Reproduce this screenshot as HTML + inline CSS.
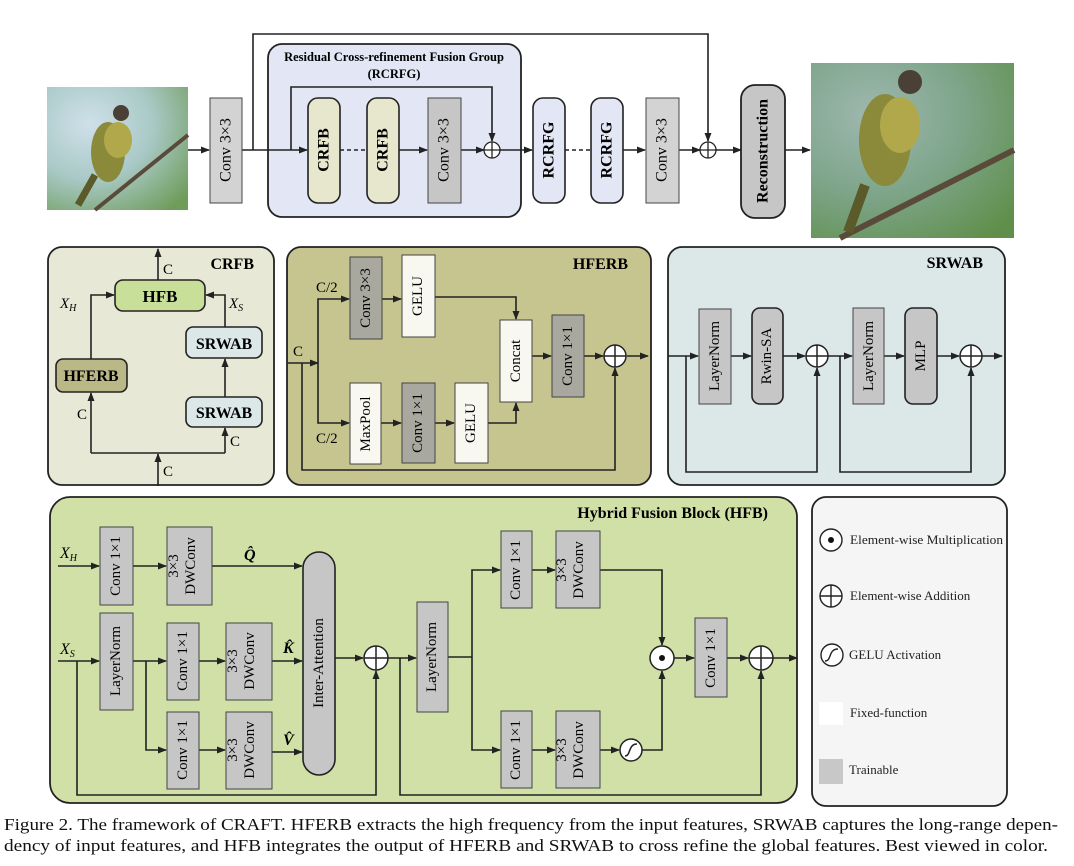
<!DOCTYPE html>
<html><head><meta charset="utf-8"><style>
html,body{margin:0;padding:0;background:#fff;}
svg{display:block;font-family:"Liberation Serif",serif;}
</style></head><body>
<svg width="1074" height="866" viewBox="0 0 1074 866" xmlns="http://www.w3.org/2000/svg">
<defs>
<marker id="a" markerWidth="9" markerHeight="8" refX="8" refY="4" orient="auto" markerUnits="userSpaceOnUse"><path d="M0,0.5 L9,4 L0,7.5 z" fill="#222"/></marker>
<radialGradient id="bg1" cx="0.3" cy="0.3" r="0.9"><stop offset="0" stop-color="#cfe0ea"/><stop offset="0.5" stop-color="#a9c9c6"/><stop offset="1" stop-color="#6f9c5a"/></radialGradient>
<radialGradient id="bg2" cx="0.3" cy="0.3" r="0.9"><stop offset="0" stop-color="#9fb8b0"/><stop offset="0.5" stop-color="#7ea58a"/><stop offset="1" stop-color="#5f8f4a"/></radialGradient>
</defs>

<!-- Birds -->
<rect x="47" y="87" width="141" height="123" fill="url(#bg1)"/>
<path d="M95,210 L188,135" stroke="#5a4a3a" stroke-width="4"/>
<ellipse cx="108" cy="152" rx="17" ry="30" fill="#8a8a3a"/>
<ellipse cx="118" cy="140" rx="14" ry="18" fill="#b0a84a"/>
<circle cx="121" cy="113" r="8" fill="#4a4035"/>
<path d="M95,175 L78,205" stroke="#5b5a2a" stroke-width="7"/>
<rect x="811" y="63" width="203" height="175" fill="url(#bg2)"/>
<path d="M840,238 L1014,150" stroke="#5a4a3a" stroke-width="6"/>
<ellipse cx="885" cy="140" rx="26" ry="46" fill="#8a8a3a"/>
<ellipse cx="900" cy="125" rx="20" ry="28" fill="#b0a84a"/>
<circle cx="910" cy="82" r="12" fill="#4a4035"/>
<path d="M865,185 L848,232" stroke="#5b5a2a" stroke-width="10"/>

<!-- Top row -->
<rect x="268" y="44" width="253" height="173" rx="14" fill="#e3e6f4" stroke="#222" stroke-width="1.8"/>
<text x="394" y="61" text-anchor="middle" font-weight="bold" font-size="12.5">Residual Cross-refinement Fusion Group</text>
<text x="394" y="78" text-anchor="middle" font-weight="bold" font-size="12.5">(RCRFG)</text>
<g stroke="#222" stroke-width="1.6" fill="none">
<line x1="188" y1="150" x2="209" y2="150" marker-end="url(#a)"/>
<line x1="242" y1="150" x2="307" y2="150" marker-end="url(#a)"/>
<polyline points="253,150 253,34 708,34 708,141" marker-end="url(#a)"/>
<polyline points="291,150 291,87 492,87 492,141" marker-end="url(#a)"/>
<line x1="340" y1="150" x2="367" y2="150" stroke-dasharray="4,3"/>
<line x1="399" y1="150" x2="427" y2="150" marker-end="url(#a)"/>
<line x1="461" y1="150" x2="484" y2="150" marker-end="url(#a)"/>
<line x1="500" y1="150" x2="532" y2="150" marker-end="url(#a)"/>
<line x1="565" y1="150" x2="591" y2="150" stroke-dasharray="4,3"/>
<line x1="623" y1="150" x2="645" y2="150" marker-end="url(#a)"/>
<line x1="679" y1="150" x2="700" y2="150" marker-end="url(#a)"/>
<line x1="716" y1="150" x2="741" y2="150" marker-end="url(#a)"/>
<line x1="785" y1="150" x2="810" y2="150" marker-end="url(#a)"/>
</g>
<rect x="210" y="98" width="32" height="105" fill="#d3d3d3" stroke="#444" stroke-width="1"/>
<text transform="translate(226,150) rotate(-90)" text-anchor="middle" dominant-baseline="central" font-size="16">Conv 3×3</text>
<rect x="308" y="98" width="32" height="105" rx="10" fill="#e6e7cc" stroke="#222" stroke-width="1.6"/>
<text transform="translate(324,150) rotate(-90)" text-anchor="middle" dominant-baseline="central" font-size="16" font-weight="bold">CRFB</text>
<rect x="367" y="98" width="32" height="105" rx="10" fill="#e6e7cc" stroke="#222" stroke-width="1.6"/>
<text transform="translate(383,150) rotate(-90)" text-anchor="middle" dominant-baseline="central" font-size="16" font-weight="bold">CRFB</text>
<rect x="428" y="98" width="33" height="105" fill="#c6c6c6" stroke="#444" stroke-width="1"/>
<text transform="translate(444,150) rotate(-90)" text-anchor="middle" dominant-baseline="central" font-size="16">Conv 3×3</text>
<rect x="533" y="98" width="32" height="105" rx="10" fill="#e3e6f4" stroke="#222" stroke-width="1.6"/>
<text transform="translate(549,150) rotate(-90)" text-anchor="middle" dominant-baseline="central" font-size="16" font-weight="bold">RCRFG</text>
<rect x="591" y="98" width="32" height="105" rx="10" fill="#e3e6f4" stroke="#222" stroke-width="1.6"/>
<text transform="translate(607,150) rotate(-90)" text-anchor="middle" dominant-baseline="central" font-size="16" font-weight="bold">RCRFG</text>
<rect x="646" y="98" width="33" height="105" fill="#d3d3d3" stroke="#444" stroke-width="1"/>
<text transform="translate(662,150) rotate(-90)" text-anchor="middle" dominant-baseline="central" font-size="16">Conv 3×3</text>
<rect x="741" y="85" width="44" height="133" rx="14" fill="#c6c6c6" stroke="#222" stroke-width="1.8"/>
<text transform="translate(763,151) rotate(-90)" text-anchor="middle" dominant-baseline="central" font-size="16" font-weight="bold">Reconstruction</text>
<g stroke="#222" stroke-width="1.3" fill="#fff">
<circle cx="492" cy="150" r="8"/><path d="M484,150h16M492,142v16"/>
<circle cx="708" cy="150" r="8"/><path d="M700,150h16M708,142v16"/>
</g>

<!-- CRFB panel -->
<rect x="48" y="247" width="226" height="238" rx="14" fill="#e8e8d6" stroke="#222" stroke-width="1.8"/>
<text x="254" y="269" text-anchor="end" font-weight="bold" font-size="16">CRFB</text>
<g stroke="#222" stroke-width="1.6" fill="none">
<line x1="158" y1="280" x2="158" y2="249" marker-end="url(#a)"/>
<polyline points="91,359 91,295 114,295" marker-end="url(#a)"/>
<polyline points="225,327 225,295 206,295" marker-end="url(#a)"/>
<line x1="158" y1="486" x2="158" y2="454" marker-end="url(#a)"/>
<polyline points="91,453 225,453"/>
<line x1="91" y1="453" x2="91" y2="393" marker-end="url(#a)"/>
<line x1="225" y1="453" x2="225" y2="428" marker-end="url(#a)"/>
<line x1="225" y1="397" x2="225" y2="359" marker-end="url(#a)"/>
</g>
<rect x="115" y="280" width="90" height="31" rx="8" fill="#c8df9a" stroke="#222" stroke-width="1.6"/>
<text x="160" y="302" text-anchor="middle" font-weight="bold" font-size="17">HFB</text>
<rect x="56" y="359" width="71" height="33" rx="7" fill="#b9b886" stroke="#222" stroke-width="1.6"/>
<text x="91" y="381" text-anchor="middle" font-weight="bold" font-size="16">HFERB</text>
<rect x="186" y="327" width="76" height="31" rx="7" fill="#dce8e8" stroke="#222" stroke-width="1.6"/>
<text x="224" y="349" text-anchor="middle" font-weight="bold" font-size="16">SRWAB</text>
<rect x="186" y="397" width="76" height="30" rx="7" fill="#dce8e8" stroke="#222" stroke-width="1.6"/>
<text x="224" y="418" text-anchor="middle" font-weight="bold" font-size="16">SRWAB</text>
<g font-size="15">
<text x="163" y="274">C</text>
<text x="60" y="308" font-style="italic">X<tspan font-size="10" dy="3">H</tspan></text>
<text x="229" y="308" font-style="italic">X<tspan font-size="10" dy="3">S</tspan></text>
<text x="77" y="419">C</text>
<text x="230" y="446">C</text>
<text x="163" y="476">C</text>
</g>

<!-- HFERB panel -->
<rect x="287" y="247" width="364" height="238" rx="14" fill="#c6c58f" stroke="#222" stroke-width="1.8"/>
<text x="628" y="269" text-anchor="end" font-weight="bold" font-size="16">HFERB</text>
<g stroke="#222" stroke-width="1.6" fill="none">
<line x1="288" y1="363" x2="318" y2="363" marker-end="url(#a)"/>
<polyline points="318,363 318,299 349,299" marker-end="url(#a)"/>
<polyline points="318,363 318,423 349,423" marker-end="url(#a)"/>
<line x1="382" y1="299" x2="401" y2="299" marker-end="url(#a)"/>
<line x1="381" y1="423" x2="401" y2="423" marker-end="url(#a)"/>
<line x1="435" y1="423" x2="454" y2="423" marker-end="url(#a)"/>
<polyline points="435,297 516,297 516,319" marker-end="url(#a)"/>
<polyline points="488,423 516,423 516,403" marker-end="url(#a)"/>
<line x1="532" y1="356" x2="551" y2="356" marker-end="url(#a)"/>
<line x1="584" y1="356" x2="603" y2="356" marker-end="url(#a)"/>
<line x1="627" y1="356" x2="648" y2="356" marker-end="url(#a)"/>
<polyline points="302,363 302,470 615,470 615,368" marker-end="url(#a)"/>
</g>
<rect x="350" y="257" width="32" height="82" fill="#a9a89f" stroke="#444" stroke-width="1"/>
<text transform="translate(366,298) rotate(-90)" text-anchor="middle" dominant-baseline="central" font-size="15">Conv 3×3</text>
<rect x="402" y="255" width="33" height="82" fill="#f8f8f0" stroke="#444" stroke-width="1"/>
<text transform="translate(418,296) rotate(-90)" text-anchor="middle" dominant-baseline="central" font-size="15">GELU</text>
<rect x="350" y="383" width="31" height="81" fill="#f8f8f0" stroke="#444" stroke-width="1"/>
<text transform="translate(366,424) rotate(-90)" text-anchor="middle" dominant-baseline="central" font-size="15">MaxPool</text>
<rect x="402" y="383" width="33" height="80" fill="#a9a89f" stroke="#444" stroke-width="1"/>
<text transform="translate(418,423) rotate(-90)" text-anchor="middle" dominant-baseline="central" font-size="15">Conv 1×1</text>
<rect x="455" y="383" width="33" height="80" fill="#f8f8f0" stroke="#444" stroke-width="1"/>
<text transform="translate(471,423) rotate(-90)" text-anchor="middle" dominant-baseline="central" font-size="15">GELU</text>
<rect x="500" y="320" width="32" height="82" fill="#f8f8f0" stroke="#444" stroke-width="1"/>
<text transform="translate(516,361) rotate(-90)" text-anchor="middle" dominant-baseline="central" font-size="15">Concat</text>
<rect x="552" y="315" width="32" height="82" fill="#a9a89f" stroke="#444" stroke-width="1"/>
<text transform="translate(568,356) rotate(-90)" text-anchor="middle" dominant-baseline="central" font-size="15">Conv 1×1</text>
<g stroke="#222" stroke-width="1.5" fill="#fff"><circle cx="615" cy="356" r="11"/><path d="M604,356h22M615,345v22"/></g>
<g font-size="15"><text x="293" y="356">C</text><text x="316" y="292">C/2</text><text x="316" y="443">C/2</text></g>

<!-- SRWAB panel -->
<rect x="668" y="247" width="337" height="238" rx="14" fill="#dce7e7" stroke="#222" stroke-width="1.8"/>
<text x="983" y="268" text-anchor="end" font-weight="bold" font-size="16">SRWAB</text>
<g stroke="#222" stroke-width="1.6" fill="none">
<line x1="668" y1="356" x2="698" y2="356" marker-end="url(#a)"/>
<line x1="731" y1="356" x2="751" y2="356" marker-end="url(#a)"/>
<line x1="783" y1="356" x2="805" y2="356" marker-end="url(#a)"/>
<line x1="828" y1="356" x2="852" y2="356" marker-end="url(#a)"/>
<line x1="884" y1="356" x2="904" y2="356" marker-end="url(#a)"/>
<line x1="937" y1="356" x2="959" y2="356" marker-end="url(#a)"/>
<line x1="982" y1="356" x2="1002" y2="356" marker-end="url(#a)"/>
<polyline points="686,356 686,472 817,472 817,368" marker-end="url(#a)"/>
<polyline points="840,356 840,472 971,472 971,368" marker-end="url(#a)"/>
</g>
<rect x="699" y="309" width="32" height="95" fill="#c6c6c6" stroke="#444" stroke-width="1"/>
<text transform="translate(715,356) rotate(-90)" text-anchor="middle" dominant-baseline="central" font-size="15">LayerNorm</text>
<rect x="752" y="308" width="31" height="96" rx="8" fill="#c6c6c6" stroke="#222" stroke-width="1.6"/>
<text transform="translate(767,356) rotate(-90)" text-anchor="middle" dominant-baseline="central" font-size="15">Rwin-SA</text>
<rect x="853" y="308" width="31" height="96" fill="#c6c6c6" stroke="#444" stroke-width="1"/>
<text transform="translate(869,356) rotate(-90)" text-anchor="middle" dominant-baseline="central" font-size="15">LayerNorm</text>
<rect x="905" y="308" width="32" height="96" rx="8" fill="#c6c6c6" stroke="#222" stroke-width="1.6"/>
<text transform="translate(921,356) rotate(-90)" text-anchor="middle" dominant-baseline="central" font-size="15">MLP</text>
<g stroke="#222" stroke-width="1.5" fill="#fff">
<circle cx="817" cy="356" r="11"/><path d="M806,356h22M817,345v22"/>
<circle cx="971" cy="356" r="11"/><path d="M960,356h22M971,345v22"/>
</g>

<!-- HFB panel -->
<rect x="50" y="497" width="747" height="306" rx="20" fill="#d0e0a6" stroke="#222" stroke-width="1.8"/>
<text x="768" y="518" text-anchor="end" font-weight="bold" font-size="16">Hybrid Fusion Block (HFB)</text>
<g stroke="#222" stroke-width="1.6" fill="none">
<line x1="58" y1="566" x2="99" y2="566" marker-end="url(#a)"/>
<line x1="133" y1="566" x2="166" y2="566" marker-end="url(#a)"/>
<line x1="212" y1="566" x2="302" y2="566" marker-end="url(#a)"/>
<line x1="58" y1="661" x2="99" y2="661" marker-end="url(#a)"/>
<polyline points="133,661 166,661" marker-end="url(#a)"/>
<polyline points="146,661 146,750 166,750" marker-end="url(#a)"/>
<line x1="199" y1="661" x2="225" y2="661" marker-end="url(#a)"/>
<line x1="199" y1="750" x2="225" y2="750" marker-end="url(#a)"/>
<line x1="272" y1="661" x2="302" y2="661" marker-end="url(#a)"/>
<line x1="272" y1="752" x2="302" y2="752" marker-end="url(#a)"/>
<line x1="335" y1="658" x2="363" y2="658" marker-end="url(#a)"/>
<polyline points="77,661 77,795 376,795 376,671" marker-end="url(#a)"/>
<line x1="388" y1="658" x2="416" y2="658" marker-end="url(#a)"/>
<polyline points="400,658 400,795 761,795 761,671" marker-end="url(#a)"/>
<polyline points="448,657 472,657"/>
<polyline points="472,657 472,570 500,570" marker-end="url(#a)"/>
<polyline points="472,657 472,750 500,750" marker-end="url(#a)"/>
<line x1="532" y1="570" x2="555" y2="570" marker-end="url(#a)"/>
<line x1="532" y1="750" x2="555" y2="750" marker-end="url(#a)"/>
<polyline points="600,570 662,570 662,645" marker-end="url(#a)"/>
<line x1="600" y1="750" x2="619" y2="750" marker-end="url(#a)"/>
<polyline points="642,750 662,750 662,671" marker-end="url(#a)"/>
<line x1="674" y1="658" x2="694" y2="658" marker-end="url(#a)"/>
<line x1="727" y1="658" x2="748" y2="658" marker-end="url(#a)"/>
<line x1="773" y1="658" x2="797" y2="658" marker-end="url(#a)"/>
</g>
<g fill="#c6c6c6" stroke="#444" stroke-width="1">
<rect x="100" y="527" width="33" height="78"/>
<rect x="167" y="527" width="45" height="78"/>
<rect x="100" y="613" width="33" height="97"/>
<rect x="167" y="623" width="32" height="77"/>
<rect x="226" y="623" width="46" height="77"/>
<rect x="167" y="712" width="32" height="77"/>
<rect x="226" y="712" width="46" height="77"/>
<rect x="417" y="602" width="31" height="110"/>
<rect x="501" y="531" width="31" height="77"/>
<rect x="556" y="531" width="44" height="77"/>
<rect x="501" y="711" width="31" height="77"/>
<rect x="556" y="711" width="44" height="77"/>
<rect x="695" y="618" width="32" height="79"/>
</g>
<rect x="303" y="552" width="32" height="223" rx="16" fill="#c6c6c6" stroke="#222" stroke-width="1.6"/>
<g font-size="15" text-anchor="middle" dominant-baseline="central">
<text transform="translate(116,566) rotate(-90)">Conv 1×1</text>
<text transform="translate(182,566) rotate(-90)"><tspan x="0" dy="-8">3×3</tspan><tspan x="0" dy="17">DWConv</tspan></text>
<text transform="translate(116,661) rotate(-90)">LayerNorm</text>
<text transform="translate(183,661) rotate(-90)">Conv 1×1</text>
<text transform="translate(241,661) rotate(-90)"><tspan x="0" dy="-8">3×3</tspan><tspan x="0" dy="17">DWConv</tspan></text>
<text transform="translate(183,750) rotate(-90)">Conv 1×1</text>
<text transform="translate(241,750) rotate(-90)"><tspan x="0" dy="-8">3×3</tspan><tspan x="0" dy="17">DWConv</tspan></text>
<text transform="translate(319,663) rotate(-90)">Inter-Attention</text>
<text transform="translate(432,657) rotate(-90)">LayerNorm</text>
<text transform="translate(516,570) rotate(-90)">Conv 1×1</text>
<text transform="translate(570,570) rotate(-90)"><tspan x="0" dy="-8">3×3</tspan><tspan x="0" dy="17">DWConv</tspan></text>
<text transform="translate(516,750) rotate(-90)">Conv 1×1</text>
<text transform="translate(570,750) rotate(-90)"><tspan x="0" dy="-8">3×3</tspan><tspan x="0" dy="17">DWConv</tspan></text>
<text transform="translate(711,658) rotate(-90)">Conv 1×1</text>
</g>
<g font-size="16" font-style="italic" font-weight="bold">
<text x="244" y="560">Q̂</text><text x="283" y="653">K̂</text><text x="283" y="745">V̂</text>
</g>
<g font-size="16" font-style="italic">
<text x="60" y="558">X<tspan font-size="10" dy="3">H</tspan></text>
<text x="60" y="654">X<tspan font-size="10" dy="3">S</tspan></text>
</g>
<g stroke="#222" stroke-width="1.5" fill="#fff">
<circle cx="376" cy="658" r="12"/><path d="M364,658h24M376,646v24"/>
<circle cx="761" cy="658" r="12"/><path d="M749,658h24M761,646v24"/>
<circle cx="662" cy="658" r="12"/>
<circle cx="631" cy="750" r="11"/>
<path d="M625,756 C631,756 628,744 637,744" fill="none"/>
</g>
<circle cx="662" cy="658" r="3" fill="#111"/>

<!-- Legend -->
<rect x="812" y="497" width="195" height="309" rx="14" fill="#f5f5f5" stroke="#222" stroke-width="1.8"/>
<g stroke="#222" stroke-width="1.4" fill="#fff">
<circle cx="831" cy="540" r="11"/>
<circle cx="831" cy="596" r="11"/><path d="M820,596h22M831,585v22"/>
<circle cx="832" cy="655" r="11"/><path d="M825,661 C832,661 828,649 838,649" fill="none"/>
</g>
<circle cx="831" cy="540" r="3" fill="#111"/>
<rect x="819" y="702" width="24" height="23" fill="#fff"/>
<rect x="819" y="759" width="24" height="25" fill="#c8c8c8"/>
<g font-size="13" fill="#222">
<text x="850" y="544" textLength="153" lengthAdjust="spacingAndGlyphs">Element-wise Multiplication</text>
<text x="850" y="600">Element-wise Addition</text>
<text x="849" y="659">GELU Activation</text>
<text x="850" y="717">Fixed-function</text>
<text x="849" y="774">Trainable</text>
</g>

<!-- Caption -->
<g font-size="16.5" fill="#111">
<text x="4" y="830" textLength="1054" lengthAdjust="spacingAndGlyphs">Figure 2. The framework of CRAFT. HFERB extracts the high frequency from the input features, SRWAB captures the long-range depen-</text>
<text x="4" y="851" textLength="1044" lengthAdjust="spacingAndGlyphs">dency of input features, and HFB integrates the output of HFERB and SRWAB to cross refine the global features. Best viewed in color.</text>
</g>
</svg>
</body></html>
